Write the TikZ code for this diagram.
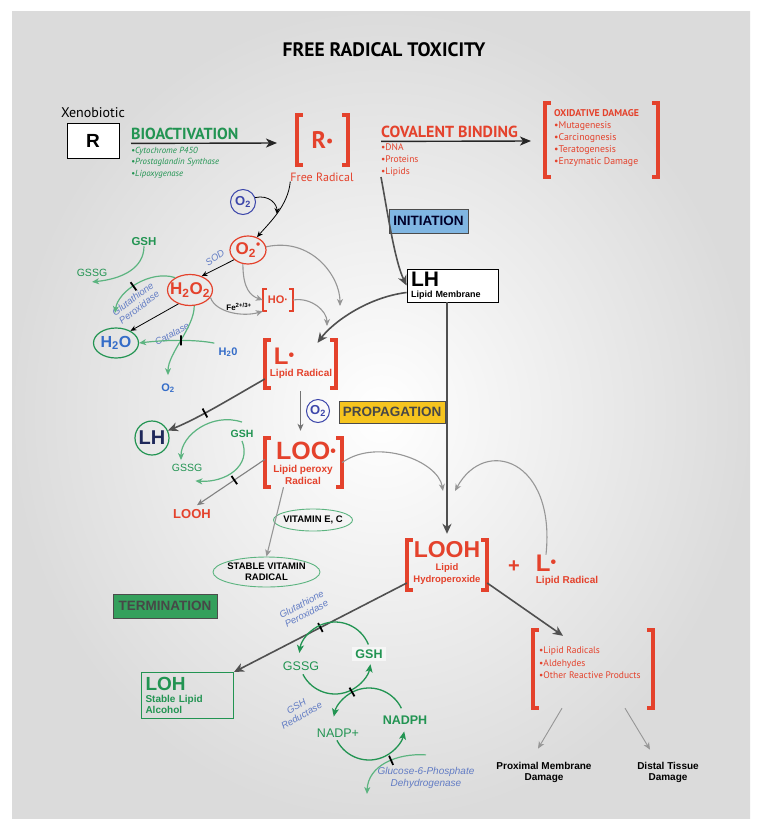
\documentclass[tikz,border=0pt]{standalone}
\usepackage{fontspec}
\setmainfont{Liberation Sans}
\newfontfamily\myr{PT Sans}
\usetikzlibrary{arrows.meta,shapes.geometric}

\definecolor{radred}{RGB}{228,66,44}
\definecolor{labgreen}{RGB}{34,148,82}
\definecolor{arcgreen}{RGB}{92,180,128}
\definecolor{enzblue}{RGB}{98,124,196}
\definecolor{molblue}{RGB}{52,108,200}
\definecolor{oxblue}{RGB}{60,70,170}
\definecolor{navy}{RGB}{30,40,90}
\definecolor{darkarr}{RGB}{80,80,80}
\definecolor{lightarr}{RGB}{150,150,150}
\definecolor{initblue}{RGB}{128,182,226}
\definecolor{propyell}{RGB}{246,196,30}
\definecolor{termgreen}{RGB}{52,160,92}

\newcommand{\fsz}[1]{\fontsize{#1}{#1}\selectfont}
\newcommand{\rdot}[1]{\raisebox{#1}{\fsz{16}•}}
\newcommand{\redbrackets}[2][6pt]{%
  \draw[brkline] ([xshift=#1]#2.north west) -- (#2.north west) -- (#2.south west) -- ([xshift=#1]#2.south west);
  \draw[brkline] ([xshift=-#1]#2.north east) -- (#2.north east) -- (#2.south east) -- ([xshift=-#1]#2.south east);}

\tikzset{
  every node/.style={inner sep=0pt},
  brkframe/.style 2 args={minimum width=#1, minimum height=#2},
  brkline/.style={draw=radred, line width=3.6pt},
  bigblack/.style={draw=black!85, line width=1.4pt, -{Stealth[length=11pt,width=9pt,inset=3pt]}},
  darkarrow/.style={draw=darkarr, line width=1.6pt, -{Stealth[length=10pt,width=9pt,inset=3pt]}},
  grayarrow/.style={draw=lightarr, line width=1.1pt, -{Stealth[length=7pt,width=6pt,inset=2pt]}},
  thinarrow/.style={draw=black, line width=0.8pt, -{Stealth[length=6pt,width=5pt]}},
  greenarrow/.style={draw=arcgreen, line width=1.2pt, -{Stealth[length=7pt,width=6pt,inset=2pt]}},
  cyclearc/.style={draw=labgreen, line width=1.3pt, -{Stealth[length=8pt,width=7pt,inset=2pt]}},
  inhibar/.style={fill=black, minimum width=1.8pt, minimum height=10pt},
  phasebox/.style={draw=black!70, line width=0.9pt, text=black!72, font=\bfseries\fsz{13.5}},
  enzlabel/.style={text=enzblue, font=\itshape\fontsize{9.5}{10.5}\selectfont, align=center},
  redtext/.style={text=radred, font=\bfseries\fsz{#1}},
  greentext/.style={text=labgreen, font=\bfseries\fsz{#1}},
}

\begin{document}
\begin{tikzpicture}[x=1pt, y=-1pt]
  % Background
  \fill[white] (0,0) rectangle (760,828);
  \shade[inner color=white, outer color=black!14] (12,11) rectangle (750,818);
  % Title
  \node[font=\myr\bfseries\fsz{19.5}] (title) at (384,50) {FREE RADICAL TOXICITY};

  % Bioactivation
  \node[font=\myr\fsz{14}] (xeno) at (93,113) {Xenobiotic};
  \node[draw, line width=1pt, fill=white, minimum width=52pt, minimum height=35pt, font=\bfseries\fsz{19}] (R) at (93,141) {R};
  \node[anchor=base west, text=labgreen, font=\myr\bfseries\fsz{16}] (bio) at (131,139) {BIOACTIVATION};
  \node[anchor=north west, align=left, text=labgreen, font=\myr\itshape\fontsize{8.8}{11.5}\selectfont] (biolist) at (131,147) {•Cytochrome P450\\•Prostaglandin Synthase\\•Lipoxygenase};
  \node[brkframe={51pt}{50pt}, text=radred, font=\myr\bfseries\fsz{24}] (Rrad) at (322.5,140) {R\rdot{2pt}};
  \redbrackets{Rrad}
  \node[text=radred, font=\myr\fsz{12}] (Rlab) at (322,177) {Free Radical};
  \coordinate (bioend) at (277,143);
  \draw[bigblack] ([yshift=-4pt]bio.south west) -- (bioend);

  % Covalent binding
  \node[anchor=base west, text=radred, font=\myr\bfseries\fsz{16}] (cov) at (381,137) {COVALENT BINDING};
  \node[anchor=north west, align=left, text=radred, font=\myr\fontsize{9.5}{12}\selectfont] (cblist) at (381,144) {•DNA\\•Proteins\\•Lipids};
  \coordinate (covend) at (531,141);
  \draw[bigblack] ([yshift=-4pt]cov.south west) -- (covend);
  \node[brkframe={113pt}{74pt}] (oxd) at (601.5,140) {};
  \redbrackets{oxd}
  \node[anchor=north west, align=left, text=radred, font=\myr\fontsize{9.8}{12}\selectfont] (oxlist) at (554,109) {\textbf{OXIDATIVE DAMAGE}\\•Mutagenesis\\•Carcinognesis\\•Teratogenesis\\•Enzymatic Damage};

  % Oxygen species
  \node[circle, draw=oxblue, line width=1pt, minimum size=25pt, text=oxblue, font=\bfseries\fsz{13}] (O2a) at (243,202) {O\textsubscript{2}};
  \node[ellipse, draw=radred, line width=1.2pt, minimum width=36pt, minimum height=28pt, text=radred, font=\bfseries\fsz{17}] (O2r) at (248,250) {O\textsubscript{2}\raisebox{6pt}{\fsz{12}•}};
  \node[ellipse, draw=radred, line width=1.2pt, minimum width=45pt, minimum height=31pt, inner xsep=-4pt, text=radred, font=\bfseries\fsz{17}] (H2O2) at (190,290) {H\textsubscript{2}O\textsubscript{2}};
  \node[ellipse, draw=labgreen, line width=1.2pt, minimum width=45pt, minimum height=30pt, inner xsep=-3pt, text=molblue, font=\bfseries\fsz{16}] (H2O) at (116,343) {H\textsubscript{2}O};
  \node[text=molblue, font=\bfseries\fsz{11}] (H2Ot) at (228,352) {H\textsubscript{2}0};
  \node[text=molblue, font=\bfseries\fsz{11}] (O2t) at (168,388) {O\textsubscript{2}};
  \node[greentext=11.5] (GSHa) at (144,242) {GSH};
  \node[text=labgreen, font=\fsz{10.5}] (GSSGa) at (92,273) {GSSG};
  \node[enzlabel, rotate=35] (sod) at (215,258) {SOD};
  \node[enzlabel, rotate=37] (gpxa) at (136,303) {Glutathione\\Peroxidase};
  \node[enzlabel, rotate=28] (cat) at (172,334) {Catalase};
  \node[brkframe={30pt}{22pt}, text=radred, font=\bfseries\fsz{11}] (HOr) at (278,300) {HO·};
  \begin{scope}[brkline/.append style={line width=2pt}]
    \redbrackets[4pt]{HOr}
  \end{scope}
  \node[font=\bfseries\fsz{8}] (fe) at (239,307) {Fe\textsuperscript{2+/3+}};

  \coordinate (o2join) at (277,214);
  \draw[thinarrow] (Rlab.south west) .. controls +(-2,24) and +(12,-14) .. (O2r.55);
  \draw[thinarrow] (O2a.20) .. controls +(14,-3) and +(0,-10) .. (o2join);
  \draw[thinarrow] (O2r.215) -- (H2O2.50);
  \draw[thinarrow] (H2O2.230) -- (H2O.40);
  \draw[greenarrow] (H2O2.285) .. controls +(0,22) and +(0,-22) .. ([yshift=8pt]O2t.north);
  \draw[greenarrow] ([xshift=-4pt,yshift=4pt]H2Ot.north west) .. controls +(-20,-4) and +(25,-3) .. (H2O.east) node[inhibar, sloped, pos=0.47] (barcat) {};
  \coordinate (gpxend) at (115,313);
  \draw[greenarrow] (GSHa.south) .. controls +(0,22) and +(30,-3) .. ([yshift=-5pt]GSSGa.south);
  \draw[greenarrow] (H2O2.140) .. controls +(-25,-8) and +(3,-22) .. (gpxend) node[inhibar, sloped, pos=0.55] (bargpx) {};
  \draw[grayarrow] (H2O2.-20) .. controls +(5,15) and +(-20,6) .. (HOr.south west);
  \draw[grayarrow] (O2r.250) .. controls +(0,25) and +(-12,-4) .. (HOr.west);
  \coordinate (o2tip) at (340,306);
  \draw[grayarrow] (O2r.10) .. controls +(45,-10) and +(0,-30) .. (o2tip);
  \coordinate (hotip) at (327,326);
  \draw[grayarrow] (HOr.east) .. controls +(18,-3) and +(0,-15) .. (hotip);

  % Initiation and lipid membrane
  \node[phasebox, fill=initblue, text=black!60!blue!40!black, minimum width=79pt, minimum height=24pt] (init) at (428.5,221) {INITIATION};
  \node[draw, line width=0.9pt, fill=white, minimum width=91pt, minimum height=33pt, text width=83pt, align=left, font=\bfseries\fontsize{9}{10.5}\selectfont] (LH) at (452.5,285.5) {{\fsz{21}LH}\\Lipid Membrane};
  \node[brkframe={71pt}{48pt}] (Lrad) at (300.5,364) {};
  \redbrackets{Lrad}
  \node[redtext=24] (Ltx) at (284,356) {L\rdot{4pt}};
  \node[redtext=10] (Llab) at (301,374) {Lipid Radical};
  \draw[darkarrow] (cblist.south west) .. controls +(6,32) and +(-12,-25) .. (LH.west);
  \draw[darkarrow] ([yshift=-7pt]LH.west) .. controls +(-40,5) and +(15,-20) .. ([xshift=17pt,yshift=-3pt]Lrad.north);

  % Propagation
  \node[circle, draw=oxblue, line width=1pt, minimum size=23pt, text=oxblue, font=\bfseries\fsz{13}] (O2b) at (318,411) {O\textsubscript{2}};
  \node[phasebox, fill=propyell, minimum width=106pt, minimum height=22pt] (prop) at (392,412) {PROPAGATION};
  \node[brkframe={77pt}{49pt}] (LOOr) at (303.5,462.5) {};
  \redbrackets{LOOr}
  \node[redtext=25] (LOOtx) at (306,451) {LOO\rdot{3pt}};
  \node[text=radred, align=center, font=\bfseries\fontsize{10}{11.5}\selectfont] (LOOlab) at (303,475) {Lipid peroxy\\Radical};
  \node[circle, draw=labgreen, line width=1.2pt, minimum size=34pt, text=navy, font=\bfseries\fsz{20}] (LHc) at (152,438) {LH};
  \node[greentext=10.5] (GSHb) at (242,434) {GSH};
  \node[text=labgreen, font=\fsz{10.5}] (GSSGb) at (187,468) {GSSG};
  \node[redtext=13] (LOOHt) at (192,514) {LOOH};
  \node[ellipse, draw=arcgreen, line width=0.9pt, minimum width=79pt, minimum height=22pt, inner xsep=-5pt, inner ysep=3pt, font=\bfseries\fsz{9.5}] (vit) at (313,520) {VITAMIN E, C};
  \node[ellipse, draw=arcgreen, line width=0.9pt, minimum width=107pt, minimum height=30pt, inner xsep=-10pt, align=center, font=\bfseries\fontsize{9.5}{11}\selectfont] (SVR) at (266.5,572) {STABLE VITAMIN\\RADICAL};
  \draw[grayarrow, draw=black!55, shorten <=3pt, shorten >=7pt] (Lrad.south) -- (Lrad.south |- LOOr.north);
  \draw[darkarrow] ([yshift=-15pt]Lrad.west) .. controls +(-35,20) and +(30,-12) .. (LHc.25) node[inhibar, sloped, pos=0.6] (barlh) {};
  \draw[greenarrow] ([yshift=8pt]GSHb.north) .. controls +(-30,-10) and +(0,-25) .. ([xshift=-6pt,yshift=4pt]GSSGb.north);
  \draw[greenarrow] ([yshift=-3pt]GSHb.south) .. controls +(10,25) and +(30,2) .. ([xshift=-7pt,yshift=-9pt]GSSGb.south east);
  \draw[grayarrow, draw=black!50] ([yshift=3pt]LOOr.west) -- ([xshift=5pt,yshift=4pt]LOOHt.north) node[inhibar, sloped, pos=0.45] (barloo) {};
  \draw[grayarrow] ([xshift=-20pt]LOOr.south) -- (SVR.north);

  % Lipid hydroperoxide
  \node[brkframe={80pt}{50pt}] (LOOHr) at (447,565) {};
  \redbrackets{LOOHr}
  \node[redtext=23] (LOOHtx) at (447,550) {LOOH};
  \node[text=radred, align=center, font=\bfseries\fontsize{9.5}{11.5}\selectfont] (LOOHlab) at (447,574) {Lipid\\Hydroperoxide};
  \node[redtext=20] (plus) at (514,567) {+};
  \node[redtext=24] (L2) at (546,563) {L\rdot{4pt}};
  \node[redtext=10] (L2lab) at (567,581) {Lipid Radical};
  \draw[darkarrow] (LH.south -| LOOHr.north) -- ([yshift=6pt]LOOHr.north);
  \coordinate (lootip) at (443,491);
  \draw[grayarrow] (LOOr.east) .. controls +(35,-25) and +(-5,-30) .. (lootip);
  \coordinate (ltip) at (455,491);
  \draw[grayarrow] (L2.north) .. controls +(10,-95) and +(30,-55) .. (ltip);

  % Termination
  \node[phasebox, fill=termgreen, minimum width=104pt, minimum height=24pt] (term) at (165,606) {TERMINATION};
  \node[draw=labgreen, line width=1pt, minimum width=92pt, minimum height=46pt, text width=84pt, align=left, text=labgreen, font=\bfseries\fontsize{10}{11.5}\selectfont] (LOH) at (187.5,695.5) {{\fsz{19}LOH}\\Stable Lipid\\Alcohol};
  \node[enzlabel, rotate=28] (gpxb) at (304,609) {Glutathione\\Peroxidase};
  \node[enzlabel, rotate=30] (gred) at (299,711) {GSH\\Reductase};
  \node[enzlabel, font=\itshape\fontsize{10}{12.5}\selectfont] (g6pd) at (426,778) {Glucose-6-Phosphate\\Dehydrogenase};
  \draw[darkarrow] ([yshift=-18pt]LOOHr.west) -- (LOH.north east) node[inhibar, sloped, pos=0.5] (barloh) {};

  % Glutathione cycle
  \coordinate (cyc1) at (335,658);
  \coordinate (cyc2) at (369,724);
  \node[text=labgreen, font=\fsz{12.5}] (GSSGc) at (301,666) {GSSG};
  \node[fill=white, fill opacity=0.6, text opacity=1, inner sep=3pt, greentext=12.5] (GSHc) at (369,654) {GSH};
  \node[text=labgreen, font=\fsz{12.5}] (NADP) at (338,733) {NADP+};
  \node[greentext=12.5] (NADPH) at (405,720) {NADPH};
  \draw[cyclearc] (cyc1) ++(22:36pt) arc[start angle=22, end angle=172, radius=36pt];
  \draw[cyclearc] (cyc1) ++(207:36pt) arc[start angle=207, end angle=350, radius=36pt];
  \draw[cyclearc] (cyc2) ++(26:36pt) arc[start angle=26, end angle=168, radius=36pt];
  \draw[cyclearc] (cyc2) ++(207:36pt) arc[start angle=207, end angle=348, radius=36pt];
  \node[inhibar, rotate=30] (barcyc) at (352,692) {};
  \coordinate (g6end) at (367,794);
  \draw[greenarrow] ([yshift=12pt]g6pd.north) .. controls +(-30,-2) and +(1,-28) .. (g6end) node[inhibar, sloped, pos=0.42] (barg6) {};

  % Reactive products
  \node[brkframe={120pt}{78pt}] (LRr) at (593,669) {};
  \redbrackets{LRr}
  \node[anchor=north west, align=left, text=radred, font=\myr\fontsize{9.5}{12.5}\selectfont] (LRlist) at (539,647) {•Lipid Radicals\\•Aldehydes\\•Other Reactive Products};
  \node[align=center, font=\bfseries\fontsize{10}{11}\selectfont] (prox) at (544,772) {Proximal Membrane\\Damage};
  \node[align=center, font=\bfseries\fontsize{10}{11}\selectfont] (dist) at (668,772) {Distal Tissue\\Damage};
  \draw[darkarrow] ([yshift=-18pt]LOOHr.east) -- ([xshift=-30pt,yshift=-6pt]LRr.north);
  \draw[grayarrow, line width=0.9pt] ([xshift=-31pt]LRr.south) -- ([xshift=-6pt,yshift=13pt]prox.north);
  \draw[grayarrow, line width=0.9pt] ([xshift=32pt]LRr.south) -- ([xshift=-18pt,yshift=12pt]dist.north);
\end{tikzpicture}
\end{document}
